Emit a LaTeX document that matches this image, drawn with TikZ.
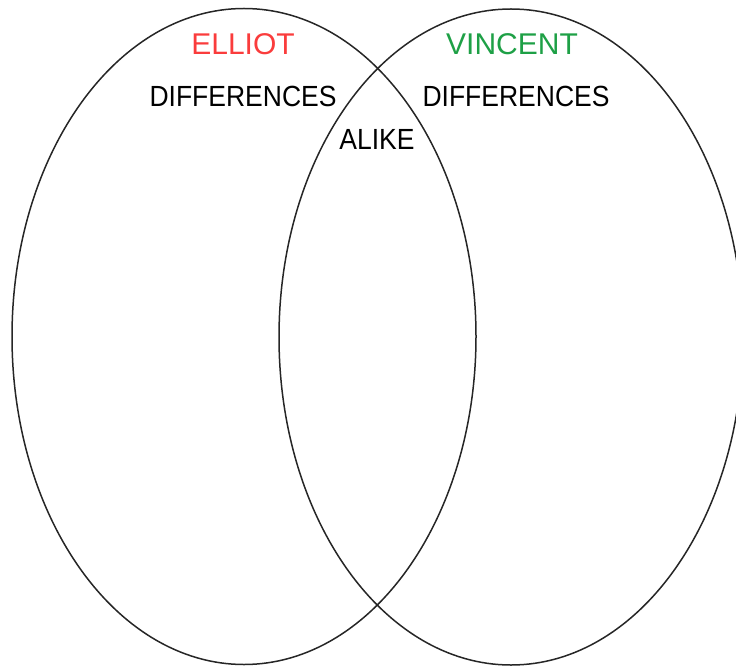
\documentclass[tikz,border=0pt]{standalone}
\usepackage{fontspec}
\setmainfont{Liberation Sans}
\usepackage{tikz}
\usetikzlibrary{shapes.geometric}
\definecolor{elliotred}{RGB}{250,60,60}
\definecolor{vincentgreen}{RGB}{30,160,70}

\begin{document}
\begin{tikzpicture}[
    x=1pt, y=-1pt,
    setnode/.style={ellipse, draw=black!85, line width=1.5pt, inner sep=0pt, minimum width=464pt, minimum height=656pt},
    namenode/.style={anchor=base, inner sep=0pt, font=\fontsize{30}{30}\selectfont},
    itemnode/.style={anchor=base, inner sep=0pt, font=\fontsize{26.5}{26.5}\selectfont, yscale=1.1, transform shape}
]
\useasboundingbox (0,0) rectangle (736,668);

% the two sets
\node[setnode] (elliot) at (244,336.5) {};
\node[setnode] (vincent) at (511,337) {};

% names
\node[namenode, text=elliotred] (elliotname) at (243,55) {ELLIOT};
\node[namenode, text=vincentgreen] (vincentname) at (512,55) {VINCENT};

% what goes inside
\node[itemnode] (elliotdiff) at (243,107) {DIFFERENCES};
\node[itemnode] (vincentdiff) at (516,107) {DIFFERENCES};
\node[itemnode] (alike) at (377,150) {ALIKE};

\end{tikzpicture}
\end{document}
